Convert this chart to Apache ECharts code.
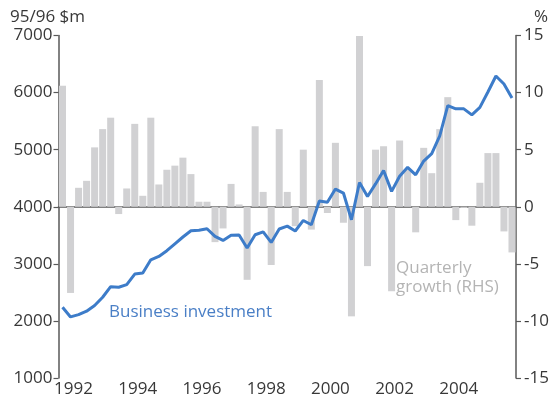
<!DOCTYPE html>
<html>
<head>
<meta charset="utf-8">
<script src="https://cdn.jsdelivr.net/npm/echarts@6/dist/echarts.min.js"></script>
<style>
  html, body { margin: 0; padding: 0; background: #fff; }
  #chart { width: 556px; height: 403px; }
</style>
</head>
<body>
<div id="chart"></div>
<script>
// quarterly data, first quarter of 1992 to first quarter of 2006
var startYear = 1992;
var yearLabels = ['1992', '1994', '1996', '1998', '2000', '2002', '2004'];
var leftTicks = [1000, 2000, 3000, 4000, 5000, 6000, 7000];
var rightTicks = [-15, -10, -5, 0, 5, 10, 15];

// business investment, 95/96 $m
var investment = [
    2240, 2070, 2110, 2170, 2270, 2415, 2600, 2590, 2635, 2820,
    2840, 3070, 3130, 3230, 3350, 3470, 3580, 3590, 3615, 3480,
    3410, 3500, 3505, 3277, 3510, 3560, 3375, 3610, 3660, 3575,
    3760, 3685, 4100, 4080, 4310, 4240, 3773, 4425, 4180, 4400,
    4635, 4270, 4535, 4690, 4560, 4800, 4930, 5240, 5770, 5715,
    5715, 5610, 5740, 6010, 6290, 6150, 5905
];

// quarterly growth, %
var growth = [
    10.6, -7.55, 1.66, 2.27, 5.2, 6.8, 7.8, -0.64, 1.6, 7.26,
    0.96, 7.8, 1.95, 3.24, 3.6, 4.3, 2.86, 0.44, 0.44, -3.1,
    -1.9, 2.0, 0.2, -6.4, 7.05, 1.3, -5.1, 6.8, 1.3, -1.7,
    5.0, -2.0, 11.1, -0.55, 5.6, -1.4, -9.6, 14.96, -5.2, 5.0,
    5.3, -7.4, 5.8, 3.3, -2.24, 5.16, 2.94, 6.8, 9.6, -1.17,
    -0.1, -1.66, 2.1, 4.7, 4.7, -2.16, -4.0
];

var quarters = [];
for (var i = 0; i < investment.length; i++) {
    quarters.push((startYear + Math.floor(i / 4)) + 'Q' + (i % 4 + 1));
}

var font = 'Open Sans';
var axisColor = '#595959';
var textColor = '#383838';

var chart = echarts.init(document.getElementById('chart'));

var option = {
    animation: false,
    textStyle: { fontFamily: font },
    title: [{
        text: '95/96 $m',
        left: 5, top: 4,
        textStyle: { fontFamily: font, fontSize: 17, fontWeight: 'normal', color: textColor }
    }, {
        text: '%',
        right: 3, top: 4,
        textStyle: { fontFamily: font, fontSize: 17, fontWeight: 'normal', color: textColor }
    }],
    grid: { left: 58.5, right: 40, top: 35.5, bottom: 25 },
    xAxis: {
        type: 'category',
        data: quarters,
        boundaryGap: true,
        axisLine: { lineStyle: { color: axisColor, width: 1.5 } },
        axisTick: { interval: 3, length: 5, lineStyle: { color: axisColor, width: 1.2 } },
        axisLabel: {
            interval: function (index) { return index % 8 === 1; },
            formatter: function (value) {
                var y = value.slice(0, 4);
                return yearLabels.indexOf(y) >= 0 ? y : '';
            },
            fontSize: 17, color: textColor, margin: 3,
            padding: [0, 0, 0, 6]
        },
        splitLine: { show: false }
    },
    yAxis: [{
        type: 'value',
        min: leftTicks[0], max: leftTicks[leftTicks.length - 1], interval: 1000,
        position: 'left',
        axisLine: { show: true, lineStyle: { color: axisColor, width: 1.5 } },
        axisTick: { show: true, length: 5, lineStyle: { color: axisColor, width: 1.2 } },
        axisLabel: {
            fontSize: 17, color: textColor, margin: 6,
            formatter: function (v) { return String(v); }
        },
        splitLine: { show: false }
    }, {
        type: 'value',
        min: rightTicks[0], max: rightTicks[rightTicks.length - 1], interval: 5,
        position: 'right',
        axisLine: { show: true, lineStyle: { color: axisColor, width: 1.5 } },
        axisTick: { show: true, length: 5, lineStyle: { color: axisColor, width: 1.2 } },
        axisLabel: {
            fontSize: 17, color: textColor, margin: 8,
            formatter: function (v) { return String(v); }
        },
        splitLine: { show: false }
    }],
    graphic: [{
        type: 'text',
        left: 109, top: 304,
        style: { text: 'Business investment', font: '17px "Open Sans"', fill: '#4a7fc6' }
    }, {
        type: 'text',
        left: 396, top: 259,
        style: {
            text: 'Quarterly\ngrowth (RHS)',
            font: '17px "Open Sans"', fill: '#b4b4b4', lineHeight: 19
        }
    }],
    series: [{
        name: 'Quarterly growth',
        type: 'bar',
        yAxisIndex: 1,
        data: growth,
        barWidth: 7,
        itemStyle: { color: '#d1d1d3' },
        z: 1
    }, {
        name: 'Business investment',
        type: 'line',
        yAxisIndex: 0,
        data: investment,
        symbol: 'none',
        lineStyle: { color: '#3d7cc9', width: 3 },
        z: 3
    }]
};

chart.setOption(option);
</script>
</body>
</html>
